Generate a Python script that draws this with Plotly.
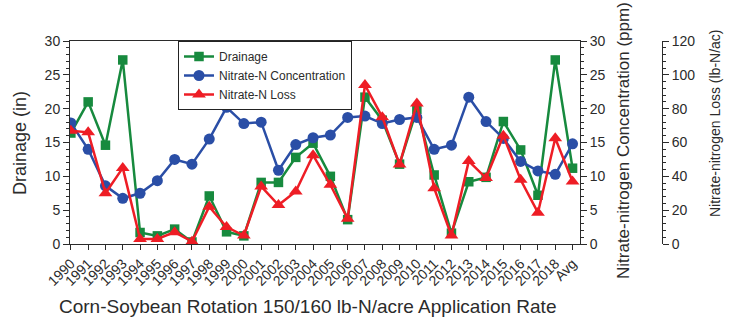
import plotly.graph_objects as go

# Corn-soybean rotation, 150/160 lb-N/acre application rate
years = [str(y) for y in range(1990, 2019)] + ["Avg"]

drainage_in = [16.4, 21.0, 14.6, 27.2, 1.7, 1.2, 2.2, 0.3, 7.1, 1.8,
               1.2, 9.1, 9.1, 12.8, 14.9, 10.0, 3.6, 21.7, 18.3, 11.8,
               19.9, 10.2, 1.6, 9.2, 9.85, 18.1, 13.9, 7.2, 27.2, 11.2]

nitrate_ppm = [17.9, 14.0, 8.6, 6.75, 7.5, 9.35, 12.5, 11.8, 15.5, 20.2,
               17.8, 18.0, 10.9, 14.7, 15.7, 16.1, 18.7, 18.9, 17.8, 18.4,
               18.7, 14.0, 14.6, 21.7, 18.1, 15.6, 12.2, 10.8, 10.3, 14.8]

nitrate_loss = [67, 66, 30, 45, 3, 3, 7, 1.4, 22, 10,
                5, 34, 23, 31, 52.5, 35, 15, 94, 75, 47,
                83, 33, 5, 49, 39, 64, 38, 18.5, 62.5, 37]

GREEN = "#178a3e"
BLUE = "#2a4ea6"
RED = "#ee1d25"
INK = "#2b2b2b"
FONT = "Liberation Sans, Arial, sans-serif"

W, H = 736, 323
ML, MR, MT, MB = 70, 10, 41, 79
plot_right_px = 580
third_axis_px = 662
pw = W - ML - MR
ph = H - MT - MB
x_end = (plot_right_px - ML) / pw
third_pos = (third_axis_px - ML) / pw


def px_x(px):
    return (px - ML) / pw


def px_y(py):
    return (H - MB - py) / ph


fig = go.Figure()
fig.add_trace(go.Scatter(
    x=years, y=drainage_in, name="Drainage", mode="lines+markers",
    line=dict(color=GREEN, width=2.5),
    marker=dict(symbol="square", size=9.5, color=GREEN),
    yaxis="y"))
fig.add_trace(go.Scatter(
    x=years, y=nitrate_ppm, name="Nitrate-N Concentration", mode="lines+markers",
    line=dict(color=BLUE, width=2.5),
    marker=dict(symbol="circle", size=11, color=BLUE),
    yaxis="y2"))
fig.add_trace(go.Scatter(
    x=years, y=nitrate_loss, name="Nitrate-N Loss", mode="lines+markers",
    line=dict(color=RED, width=2.5),
    marker=dict(symbol="triangle-up", size=12, color=RED),
    yaxis="y3"))

tickfont = dict(family=FONT, size=14, color=INK)
minor = dict(ticks="outside", ticklen=3, tickcolor=INK)

fig.update_layout(
    width=W, height=H,
    margin=dict(l=ML, r=MR, t=MT, b=MB),
    paper_bgcolor="white", plot_bgcolor="white",
    font=dict(family=FONT, color=INK),
    showlegend=True,
    legend=dict(
        x=px_x(178), y=1, xanchor="left", yanchor="top",
        bordercolor="#222", borderwidth=1, bgcolor="white",
        font=dict(family=FONT, size=12, color=INK),
        tracegroupgap=0, itemwidth=30),
    xaxis=dict(
        domain=[0, x_end], type="category",
        range=[-0.05, 29.43],
        tickangle=-45, tickfont=tickfont,
        showline=True, linecolor=INK, linewidth=1, mirror=True,
        ticks="outside", ticklen=5, tickcolor=INK,
        showgrid=False, zeroline=False, automargin=False),
    yaxis=dict(
        range=[0, 30], dtick=5, tickfont=tickfont,
        showline=True, linecolor=INK, linewidth=1,
        ticks="outside", ticklen=6, tickcolor=INK,
        minor=dict(dtick=1, **minor),
        showgrid=False, zeroline=False),
    yaxis2=dict(
        range=[0, 30], dtick=5, tickfont=tickfont,
        overlaying="y", side="right", anchor="x",
        showline=True, linecolor=INK, linewidth=1,
        ticks="outside", ticklen=6, tickcolor=INK,
        minor=dict(dtick=1, **minor),
        showgrid=False, zeroline=False),
    yaxis3=dict(
        range=[0, 120], dtick=20, tickfont=tickfont,
        overlaying="y", side="right", anchor="free", position=third_pos,
        showline=True, linecolor=INK, linewidth=1,
        ticks="outside", ticklen=6, tickcolor=INK,
        minor=dict(dtick=4, **minor),
        showgrid=False, zeroline=False),
)

# Axis titles
def title(text, x, y, size, angle):
    fig.add_annotation(text=text, xref="paper", yref="paper",
                       x=px_x(x), y=px_y(y), xanchor="center", yanchor="middle",
                       textangle=angle, showarrow=False,
                       font=dict(family=FONT, size=size, color=INK))


title("Drainage (in)", 20, 143, 18, -90)
title("Nitrate-nitrogen Concentration (ppm)", 623, 141, 17, -90)
title("Nitrate-nitrogen Loss (lb-N/ac)", 715, 123, 14, -90)
title("Corn-Soybean Rotation 150/160 lb-N/acre Application Rate", 307, 306, 19, 0)

fig.write_html("out.html")
